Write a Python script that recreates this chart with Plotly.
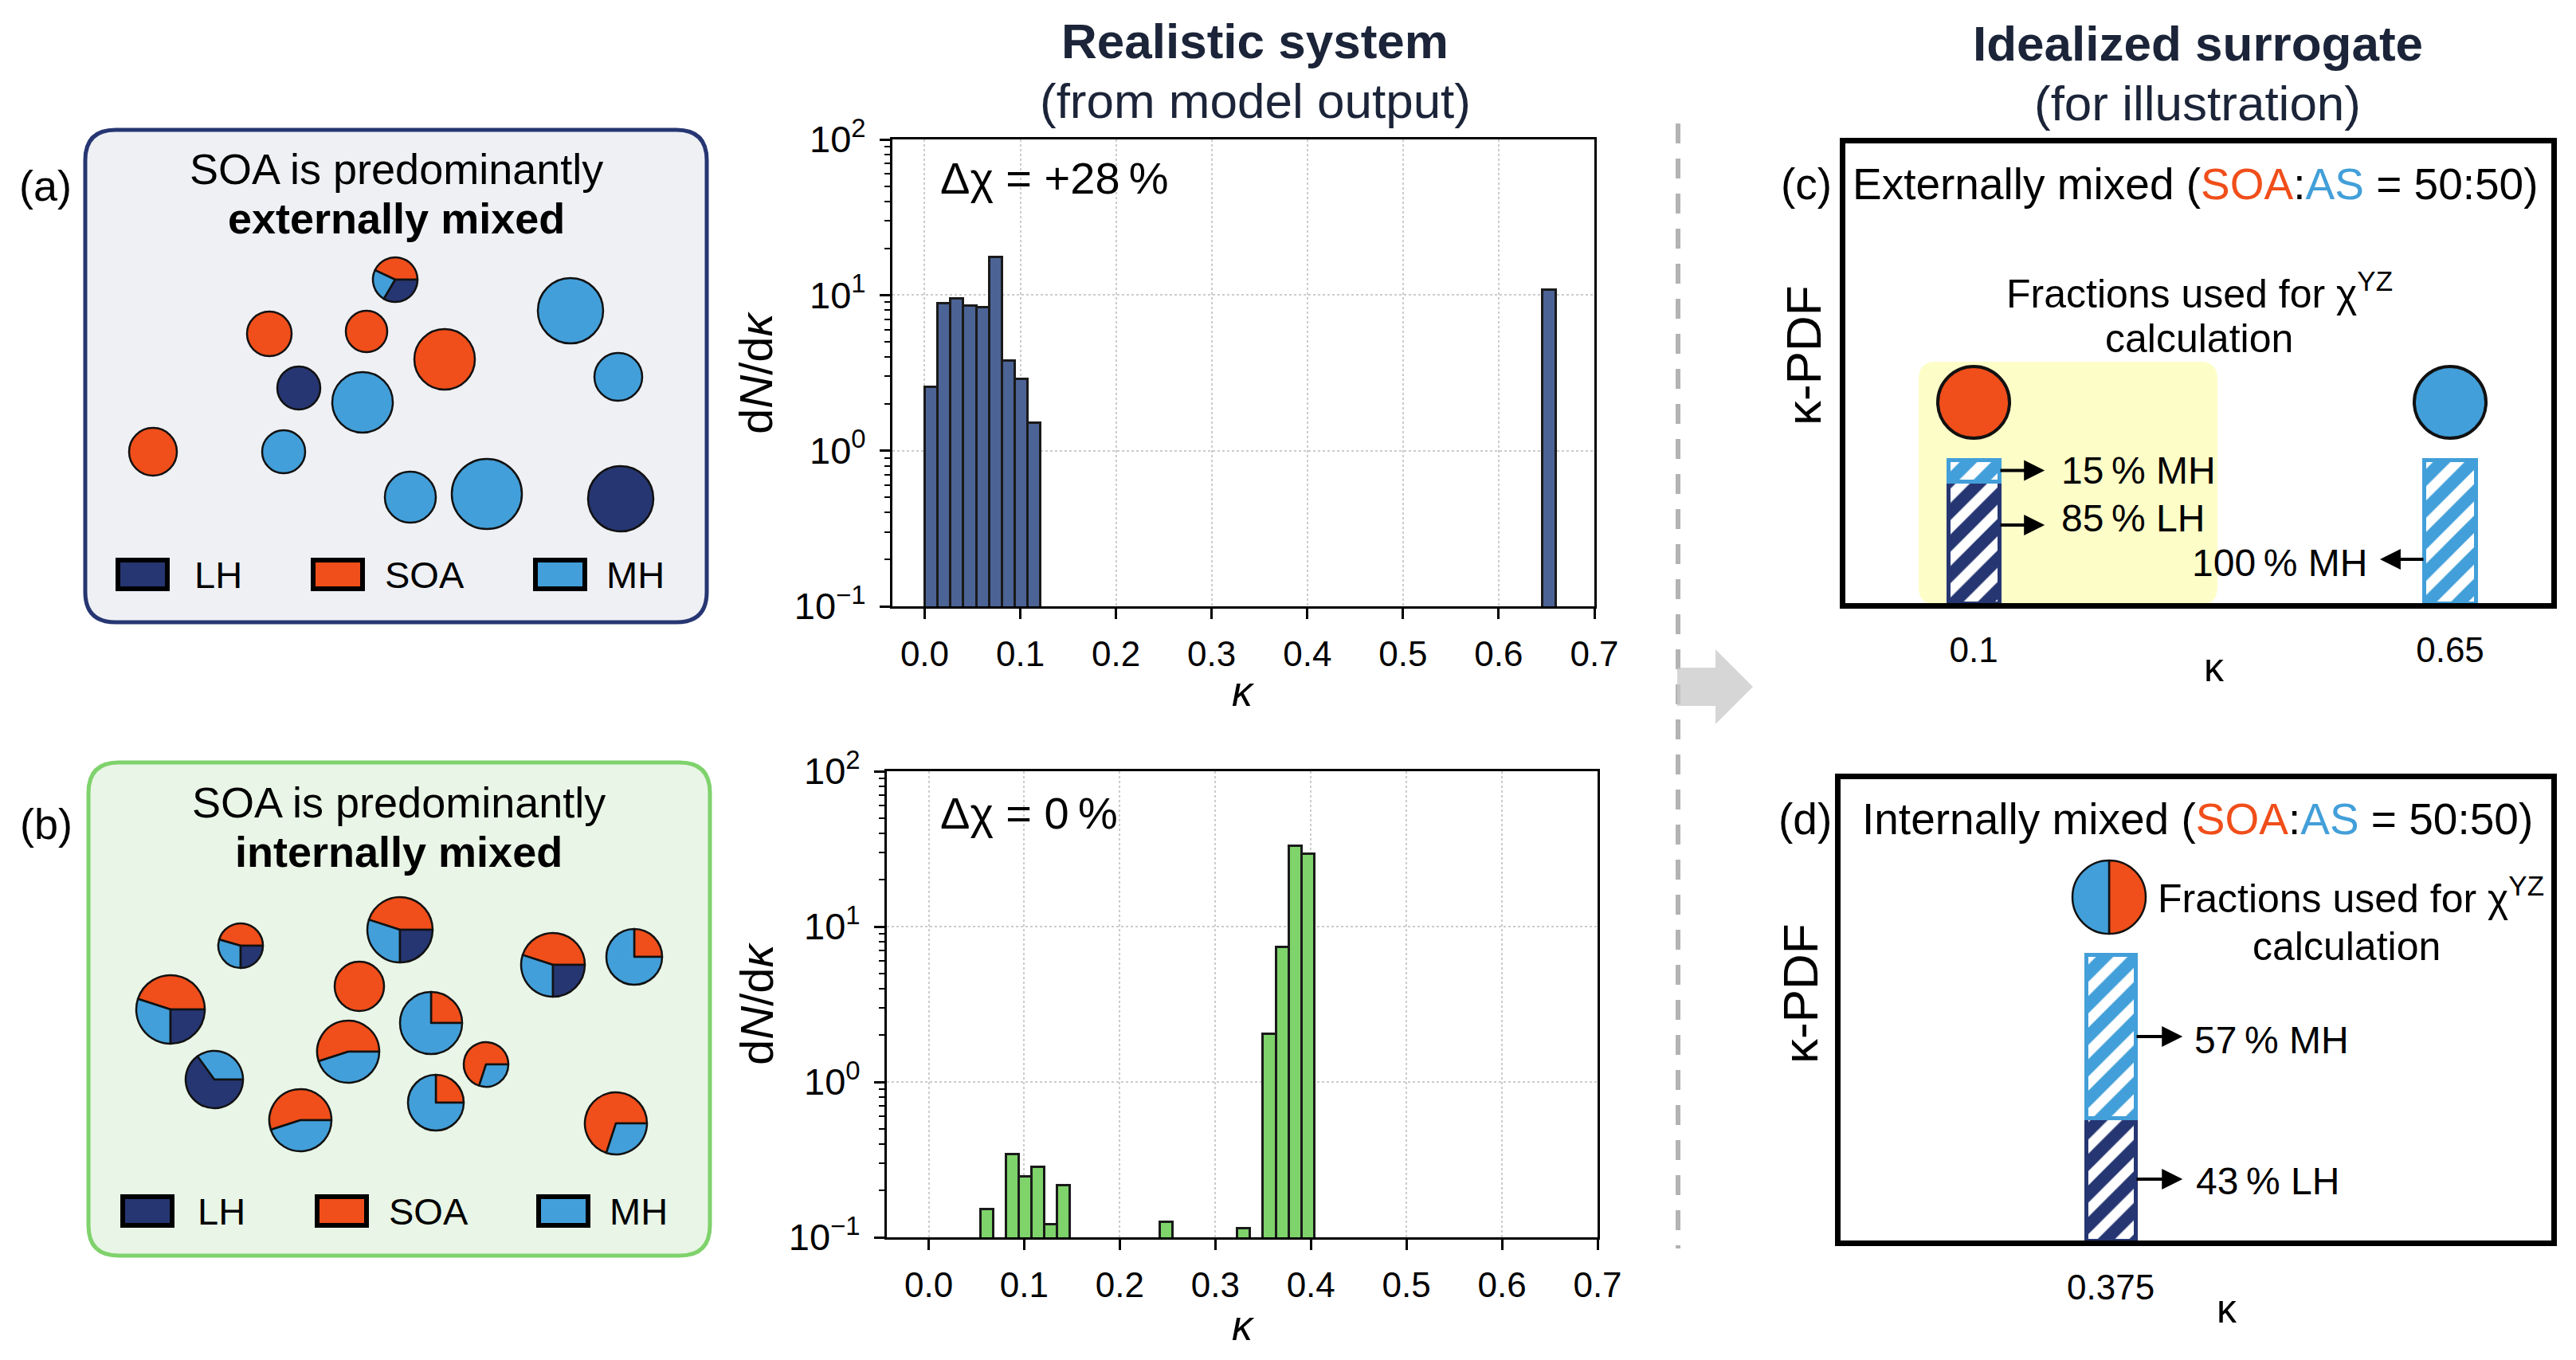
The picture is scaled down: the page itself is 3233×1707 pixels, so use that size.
import plotly.graph_objects as go

# page is 3233x1707; the html body keeps its default 8 px margin,
# so the figure is made 16 px smaller and coordinates are shifted by 8 px
W, H = 3233, 1707
BODY = 8
FW, FH = W - 2 * BODY, H - 2 * BODY
FONT = "Liberation Sans, Arial, Helvetica, sans-serif"

LH_C = "#263672"
SOA_C = "#f04e1a"
MH_C = "#429fd9"
TITLE_C = "#1b2438"

# ---------------- data ----------------
# kappa histograms: left bin edges and dN/dkappa
bin_width = 0.01345
ext_left = [0.0000, 0.0135, 0.0269, 0.0404, 0.0538, 0.0673, 0.0807, 0.0942, 0.1076, 0.6458]
ext_dndk = [2.56, 8.9, 9.5, 8.6, 8.4, 17.5, 3.8, 2.9, 1.52, 10.9]
int_left = [0.0538, 0.0807, 0.0942, 0.1076, 0.1211, 0.1345, 0.2421, 0.3228, 0.3497, 0.3632, 0.3766, 0.3901]
int_dndk = [0.152, 0.344, 0.248, 0.284, 0.121, 0.218, 0.126, 0.114, 2.05, 7.4, 33.1, 29.5]

x_ticks = [0.0, 0.1, 0.2, 0.3, 0.4, 0.5, 0.6, 0.7]
x_ticktext = ["0.0", "0.1", "0.2", "0.3", "0.4", "0.5", "0.6", "0.7"]
y_ticks = [0.1, 1, 10, 100]
y_ticktext = ["10<sup>\u22121</sup>", "10<sup>0</sup>", "10<sup>1</sup>", "10<sup>2</sup>"]
y_minor = [m * 10.0 ** e for e in (-1, 0, 1) for m in range(2, 10)]

# idealized surrogate: kappa-PDF fractions
c_kappa_lh = [0.1]
c_lh = [0.85]
c_kappa_mh = [0.1, 0.65]
c_mh = [0.15, 1.0]
c_ticks = [0.1, 0.65]
c_ticktext = ["0.1", "0.65"]
c_circle_kappa = [0.1, 0.65]
c_circle_level = [1.40, 1.40]
c_circle_color = [SOA_C, MH_C]

d_kappa = [0.375]
d_lh = [0.43]
d_mh = [0.57]
d_ticks = [0.375]
d_ticktext = ["0.375"]

# schematic particles: centre (px), radius (px), fractions [SOA, MH, LH]
a_x = [496, 338, 460, 558, 716, 776, 375, 455, 192, 356, 515, 611, 779]
a_y = [351, 419, 416, 451, 390, 473, 487, 505, 567, 567, 624, 620, 626]
a_r = [28, 28, 26, 38, 41, 30, 27, 38, 30, 27, 32, 44, 41]
a_soa = [0.43, 1, 1, 1, 0, 0, 0, 0, 1, 0, 0, 0, 0]
a_mh = [0.235, 0, 0, 0, 1, 1, 0, 1, 0, 1, 1, 1, 0]
a_lh = [0.335, 0, 0, 0, 0, 0, 1, 0, 0, 0, 0, 0, 1]

b_x = [302, 502, 694, 796, 214, 451, 541, 437, 610, 269, 547, 377, 773]
b_y = [1187, 1167, 1211, 1201, 1267, 1238, 1284, 1320, 1336, 1355, 1384, 1406, 1410]
b_r = [28, 41, 40, 35, 43, 31, 39, 39, 28, 36, 35, 39, 39]
b_soa = [0.455, 0.45, 0.45, 0.25, 0.45, 1, 0.25, 0.55, 0.70, 0, 0.25, 0.55, 0.70]
b_mh = [0.295, 0.30, 0.30, 0.75, 0.30, 0, 0.75, 0.45, 0.30, 0.35, 0.75, 0.45, 0.30]
b_lh = [0.25, 0.25, 0.25, 0, 0.25, 0, 0, 0, 0, 0.65, 0, 0, 0]

# internally mixed surrogate particle (d): SOA right half, MH left half
d_particle = dict(x=2647, y=1126, r=46, soa=0.5, mh=0.5, lh=0, start=-90)

legend_names = ["LH", "SOA", "MH"]
legend_colors = [LH_C, SOA_C, MH_C]


def px(x):
    return (x - BODY) / FW


def py(y):
    return 1 - (y - BODY) / FH


def particle(cx, cy, r, soa, mh, lh, start=0):
    vals, cols = [], []
    for v, c in zip([soa, mh, lh], [SOA_C, MH_C, LH_C]):
        if v > 0:
            vals.append(v)
            cols.append(c)
    rot = 90 - start - 360 * vals[0] / sum(vals)
    rot = (rot + 180) % 360 - 180
    return go.Pie(values=vals, marker=dict(colors=cols, line=dict(color="#111111", width=2.5)),
                  domain=dict(x=[px(cx - r), px(cx + r)], y=[py(cy + r), py(cy - r)]),
                  sort=False, direction="counterclockwise", rotation=rot,
                  textinfo="none", hoverinfo="skip", showlegend=False)


def rrect_path(x0, y0, x1, y1, r):
    # rounded rectangle in paper coordinates (pixel inputs, y downward)
    pts = [
        ("M", x0 + r, y0), ("L", x1 - r, y0), ("Q", x1, y0, x1, y0 + r),
        ("L", x1, y1 - r), ("Q", x1, y1, x1 - r, y1), ("L", x0 + r, y1),
        ("Q", x0, y1, x0, y1 - r), ("L", x0, y0 + r), ("Q", x0, y0, x0 + r, y0),
    ]
    s = ""
    for p in pts:
        if p[0] == "Q":
            s += "Q%.5f,%.5f %.5f,%.5f " % (px(p[1]), py(p[2]), px(p[3]), py(p[4]))
        else:
            s += "%s%.5f,%.5f " % (p[0], px(p[1]), py(p[2]))
    return s + "Z"


def ann(text, x, y, size, xanchor="center", color="black", **kw):
    return dict(text=text, x=px(x), y=py(y), xref="paper", yref="paper", xanchor=xanchor,
                yanchor="middle", showarrow=False, font=dict(family=FONT, size=size, color=color), **kw)


def arrow(x_tail, x_head, y, ax_id):
    return dict(x=x_head, y=y, ax=x_tail, ay=y, xref="x" + ax_id, yref="y" + ax_id,
                axref="x" + ax_id, ayref="y" + ax_id, text="", showarrow=True, arrowhead=2,
                arrowsize=1.3, arrowwidth=4, arrowcolor="black", standoff=0, startstandoff=0)


fig = go.Figure()

# ---------------- histograms ----------------
fig.add_trace(go.Bar(x=ext_left, y=ext_dndk, width=bin_width, offset=0, xaxis="x", yaxis="y",
                     marker=dict(color="#4c6396", line=dict(color="#1a1a1a", width=3)),
                     showlegend=False))
fig.add_trace(go.Bar(x=int_left, y=int_dndk, width=bin_width, offset=0, xaxis="x2", yaxis="y2",
                     marker=dict(color="#7ed36a", line=dict(color="#1a1a1a", width=3)),
                     showlegend=False))

# ---------------- surrogate bars ----------------
bw_c = 0.0589
bw_d = 0.057


def hatch(col):
    return dict(color="white", line=dict(color=col, width=5),
                pattern=dict(shape="/", fgcolor=col, bgcolor="white", fgopacity=1,
                             size=28, solidity=0.55))


fig.add_trace(go.Bar(x=c_kappa_lh, y=c_lh, width=bw_c, xaxis="x3", yaxis="y3", marker=hatch(LH_C), showlegend=False))
fig.add_trace(go.Bar(x=c_kappa_mh, y=c_mh, width=bw_c, xaxis="x3", yaxis="y3", marker=hatch(MH_C), showlegend=False))
fig.add_trace(go.Scatter(x=c_circle_kappa, y=c_circle_level, mode="markers", xaxis="x3", yaxis="y3",
                         marker=dict(size=90, color=c_circle_color, line=dict(color="#111111", width=4)),
                         showlegend=False, hoverinfo="skip"))
fig.add_trace(go.Bar(x=d_kappa, y=d_lh, width=bw_d, xaxis="x4", yaxis="y4", marker=hatch(LH_C), showlegend=False))
fig.add_trace(go.Bar(x=d_kappa, y=d_mh, width=bw_d, xaxis="x4", yaxis="y4", marker=hatch(MH_C), showlegend=False))

# ---------------- particles ----------------
for i in range(len(a_x)):
    fig.add_trace(particle(a_x[i], a_y[i], a_r[i], a_soa[i], a_mh[i], a_lh[i]))
for i in range(len(b_x)):
    fig.add_trace(particle(b_x[i], b_y[i], b_r[i], b_soa[i], b_mh[i], b_lh[i]))
fig.add_trace(particle(d_particle["x"], d_particle["y"], d_particle["r"], d_particle["soa"],
                       d_particle["mh"], d_particle["lh"], d_particle["start"]))

# ---------------- axes ----------------
hist_x = dict(tickvals=x_ticks, ticktext=x_ticktext, showline=True, mirror=True, automargin=False,
              linecolor="black", linewidth=3, ticks="outside", ticklen=13, tickwidth=3,
              tickcolor="black", ticklabelstandoff=6, showgrid=True, gridcolor="#cccccc",
              griddash="dot", gridwidth=2, zeroline=False,
              tickfont=dict(family=FONT, size=44, color="black"))
hist_y = dict(type="log", range=[-1, 2], tickvals=y_ticks, ticktext=y_ticktext, showline=True,
              mirror=True, automargin=False, linecolor="black", linewidth=3, ticks="outside",
              ticklen=13, tickwidth=3, tickcolor="black", ticklabelstandoff=8, showgrid=True,
              gridcolor="#cccccc", griddash="dot", gridwidth=2, zeroline=False,
              minor=dict(tickvals=y_minor, ticks="outside", ticklen=7, tickwidth=2,
                         tickcolor="black", showgrid=False),
              tickfont=dict(family=FONT, size=47, color="black"))

box_x = dict(showline=True, mirror=True, automargin=False, linecolor="black", linewidth=7,
             ticks="outside", ticklen=14, tickcolor="rgba(0,0,0,0)", showgrid=False, zeroline=False,
             tickfont=dict(family=FONT, size=44, color="black"))
box_y = dict(showline=True, mirror=True, automargin=False, linecolor="black", linewidth=7,
             showticklabels=False, ticks="", showgrid=False, zeroline=False)

fig.update_layout(
    xaxis=dict(hist_x, domain=[px(1120), px(2001)], range=[-0.0337, 0.7], anchor="y"),
    yaxis=dict(hist_y, domain=[py(761), py(175)], anchor="x"),
    xaxis2=dict(hist_x, domain=[px(1113), px(2005)], range=[-0.0438, 0.7], anchor="y2"),
    yaxis2=dict(hist_y, domain=[py(1553), py(968)], anchor="x2"),
    xaxis3=dict(box_x, domain=[px(2316), px(3202)], range=[-0.0481, 0.7668], anchor="y3",
                tickvals=c_ticks, ticktext=c_ticktext),
    yaxis3=dict(box_y, domain=[py(757), py(180)], range=[0, 3.206], anchor="x3"),
    xaxis4=dict(box_x, domain=[px(2310), px(3202)], range=[0.0631, 0.8837], anchor="y4",
                tickvals=d_ticks, ticktext=d_ticktext),
    yaxis4=dict(box_y, domain=[py(1557), py(978)], range=[0, 1.617], anchor="x4"),
)

# ---------------- shapes ----------------
shapes = [
    dict(type="path", path=rrect_path(107, 163, 887, 781, 38), xref="paper", yref="paper",
         fillcolor="#eef0f4", line=dict(color=LH_C, width=5), layer="below"),
    dict(type="path", path=rrect_path(111, 957, 891, 1576, 38), xref="paper", yref="paper",
         fillcolor="#e9f5e6", line=dict(color="#7fd26c", width=5), layer="below"),
    dict(type="path", path=rrect_path(2408, 454, 2783, 759, 22), xref="paper", yref="paper",
         fillcolor="#fdfdc8", line=dict(width=0), layer="below"),
    dict(type="line", x0=px(2106), x1=px(2106), y0=py(155), y1=py(1567), xref="paper", yref="paper",
         line=dict(color="#b3b3b3", width=6, dash="25px,19px")),
    dict(type="path", xref="paper", yref="paper", fillcolor="rgba(200,200,200,0.75)", line=dict(width=0),
         path="M%.5f,%.5f L%.5f,%.5f L%.5f,%.5f L%.5f,%.5f L%.5f,%.5f L%.5f,%.5f L%.5f,%.5f Z" % (
             px(2105), py(838), px(2153), py(838), px(2153), py(815), px(2200), py(862),
             px(2153), py(909), px(2153), py(886), px(2105), py(886))),
]

legend_a_x = [148, 393, 672]
legend_a_tx = [242, 481, 759]
legend_b_x = [154, 398, 676]
legend_b_tx = [246, 486, 763]
for lx, ly in ((legend_a_x, 721), (legend_b_x, 1520)):
    for x0, col in zip(lx, legend_colors):
        shapes.append(dict(type="rect", xref="paper", yref="paper", x0=px(x0), x1=px(x0 + 62),
                           y0=py(ly + 18), y1=py(ly - 18), fillcolor=col,
                           line=dict(color="black", width=6)))
fig.update_layout(shapes=shapes)

# ---------------- text ----------------
annotations = [
    ann("<b>Realistic system</b>", 1575, 51, 62, color=TITLE_C),
    ann("(from model output)", 1575, 126, 62, color=TITLE_C),
    ann("<b>Idealized surrogate</b>", 2758, 54, 62, color=TITLE_C),
    ann("(for illustration)", 2758, 129, 62, color=TITLE_C),
    ann("(a)", 57, 233, 54),
    ann("SOA is predominantly", 497, 212, 54),
    ann("<b>externally mixed</b>", 497, 274, 54),
    ann("(b)", 58, 1034, 54),
    ann("SOA is predominantly", 500, 1007, 54),
    ann("<b>internally mixed</b>", 500, 1069, 54),
    ann("\u0394\u03c7 = +28\u2009%", 1178, 224, 56, xanchor="left"),
    ann("\u0394\u03c7 = 0\u2009%", 1178, 1020, 56, xanchor="left"),
    ann("d<i>N</i>/d<i>\u03ba</i>", 949, 468, 58, textangle=-90),
    ann("d<i>N</i>/d<i>\u03ba</i>", 949, 1260, 58, textangle=-90),
    ann("<i>\u03ba</i>", 1560, 868, 52),
    ann("<i>\u03ba</i>", 1560, 1664, 52),
    ann("(c)", 2267, 231, 55),
    ann("Externally mixed (<span style='color:%s'>SOA</span>:<span style='color:%s'>AS</span> = 50:50)"
        % (SOA_C, MH_C), 2755, 231, 55),
    ann("Fractions used for \u03c7<sup>YZ</sup>", 2760, 365, 50),
    ann("calculation", 2760, 425, 50),
    ann("15\u2009% MH", 2585, 590, 48, xanchor="left"),
    ann("85\u2009% LH", 2585, 650, 48, xanchor="left"),
    ann("100\u2009% MH", 2973, 706, 48, xanchor="right"),
    ann("\u03ba-PDF", 2263, 446, 62, textangle=-90),
    ann("\u03ba", 2779, 838, 50),
    ann("(d)", 2265, 1028, 55),
    ann("Internally mixed (<span style='color:%s'>SOA</span>:<span style='color:%s'>AS</span> = 50:50)"
        % (SOA_C, MH_C), 2758, 1028, 55),
    ann("Fractions used for \u03c7<sup>YZ</sup>", 2706, 1124, 50, xanchor="left"),
    ann("calculation", 2945, 1188, 50),
    ann("57\u2009% MH", 2752, 1305, 48, xanchor="left"),
    ann("43\u2009% LH", 2754, 1482, 48, xanchor="left"),
    ann("\u03ba-PDF", 2259, 1247, 62, textangle=-90),
    ann("\u03ba", 2795, 1643, 50),
]
for tx, ly in ((legend_a_tx, 721), (legend_b_tx, 1520)):
    for x0, name in zip(tx, legend_names):
        annotations.append(ann(name, x0, ly, 47, xanchor="left"))

# arrows from the surrogate bars to their labels
annotations += [
    arrow(0.1 + bw_c / 2, 0.182, c_lh[0] + c_mh[0] / 2, "3"),
    arrow(0.1 + bw_c / 2, 0.182, 0.544, "3"),
    arrow(0.65 - bw_c / 2, 0.569, 0.306, "3"),
    arrow(0.375 + bw_d / 2, 0.458, d_lh[0] + d_mh[0] / 2, "4"),
    arrow(0.375 + bw_d / 2, 0.458, d_lh[0] / 2, "4"),
]

fig.update_layout(
    annotations=annotations,
    width=FW, height=FH, autosize=False,
    margin=dict(l=0, r=0, t=0, b=0, pad=0, autoexpand=False),
    paper_bgcolor="white", plot_bgcolor="rgba(0,0,0,0)",
    barmode="stack",
    font=dict(family=FONT, color="black"),
)

fig.write_html("out.html")
